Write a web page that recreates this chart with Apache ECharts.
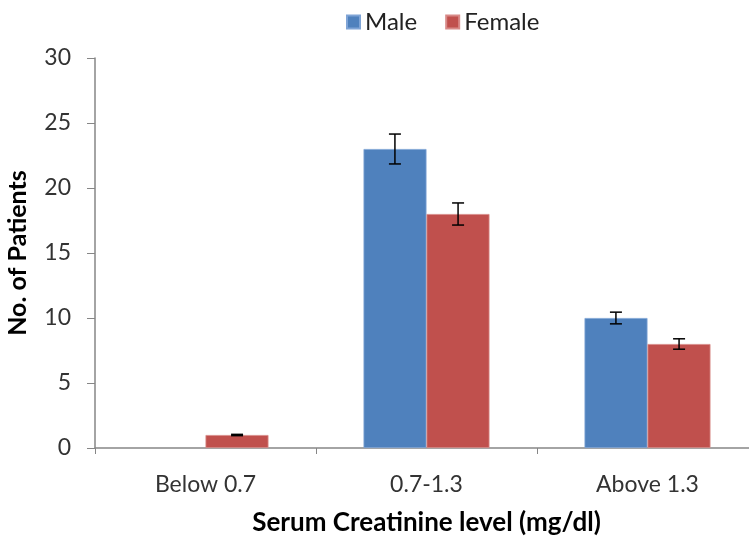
<!DOCTYPE html>
<html><head><meta charset="utf-8">
<script src="https://cdn.jsdelivr.net/npm/echarts@6/dist/echarts.min.js"></script>
<style>html,body{margin:0;padding:0;background:#fff}#c{width:749px;height:536px}</style>
</head><body><div id="c"></div>
<script>
var categories = ['Below 0.7', '0.7-1.3', 'Above 1.3'];
var maleValues = [0, 23, 10];
var femaleValues = [1, 18, 8];
var maleErrors = [0, 1.15, 0.45];
var femaleErrors = [0.05, 0.85, 0.4];
var yTicks = [0, 5, 10, 15, 20, 25, 30];

var FONT = 'Lato, "Open Sans", sans-serif';
var chart = echarts.init(document.getElementById('c'));

function barData(vals) {
  return vals.map(function (v) {
    return v === 0 ? { value: v, itemStyle: { borderWidth: 0 } } : v;
  });
}

function errSeries(name, vals, errs, idx) {
  return {
    type: 'custom', name: name + ' err', z: 10, silent: true,
    data: vals.map(function (v, i) { return [i, v - errs[i], v + errs[i], errs[i]]; }),
    renderItem: function (params, api) {
      if (api.value(3) <= 0) return null;
      var lo = api.coord([api.value(0), api.value(1)]);
      var hi = api.coord([api.value(0), api.value(2)]);
      var bw = api.size([1, 0])[0];
      var barW = bw / 3.5;
      var x = lo[0] + (idx === 0 ? -barW / 2 : barW / 2);
      var cap = 6;
      var st = { stroke: '#000', lineWidth: 1.5 };
      return { type: 'group', children: [
        { type: 'line', shape: { x1: x, y1: lo[1], x2: x, y2: hi[1] }, style: st },
        { type: 'line', shape: { x1: x - cap, y1: lo[1], x2: x + cap, y2: lo[1] }, style: st },
        { type: 'line', shape: { x1: x - cap, y1: hi[1], x2: x + cap, y2: hi[1] }, style: st }
      ]};
    }
  };
}

chart.setOption({
  animation: false,
  legend: {
    data: ['Male', 'Female'], top: 5, left: 341, itemGap: 28,
    itemWidth: 13, itemHeight: 13, icon: 'rect',
    textStyle: { fontFamily: FONT, fontSize: 24, color: '#222' }
  },
  grid: { left: 95, width: 663, top: 58, height: 390, outerBoundsMode: 'none', containLabel: false },
  xAxis: {
    type: 'category', data: categories,
    axisLine: { lineStyle: { color: '#868686', width: 1.5 } },
    axisTick: { show: true, length: 6, lineStyle: { color: '#868686' } },
    axisLabel: { fontFamily: FONT, fontSize: 23, color: '#333', margin: 25 },
    name: 'Serum Creatinine level (mg/dl)', nameLocation: 'middle', nameGap: 62,
    nameTextStyle: { fontFamily: FONT, fontSize: 26, fontWeight: 'bold', color: '#000' }
  },
  yAxis: {
    type: 'value', min: 0, max: 30, interval: 5,
    splitLine: { show: false },
    axisLine: { show: true, lineStyle: { color: '#868686', width: 1.5 } },
    axisTick: { show: true, length: 8, lineStyle: { color: '#868686' } },
    axisLabel: { fontFamily: FONT, fontSize: 23, color: '#333', margin: 24,
      formatter: function (v) { return yTicks.indexOf(v) >= 0 ? String(v) : ''; } },
    name: 'No. of Patients', nameLocation: 'middle', nameGap: 65,
    nameTextStyle: { fontFamily: FONT, fontSize: 25, fontWeight: 'bold', color: '#000' }
  },
  series: [
    { name: 'Male', type: 'bar', data: barData(maleValues), barGap: '0%', barCategoryGap: '43%',
      itemStyle: { color: '#4F81BD', borderColor: '#7fa4d6', borderWidth: 0.8 } },
    { name: 'Female', type: 'bar', data: barData(femaleValues),
      itemStyle: { color: '#C0504D', borderColor: '#d88a88', borderWidth: 0.8 } },
    errSeries('Male', maleValues, maleErrors, 0),
    errSeries('Female', femaleValues, femaleErrors, 1)
  ]
});
</script></body></html>
